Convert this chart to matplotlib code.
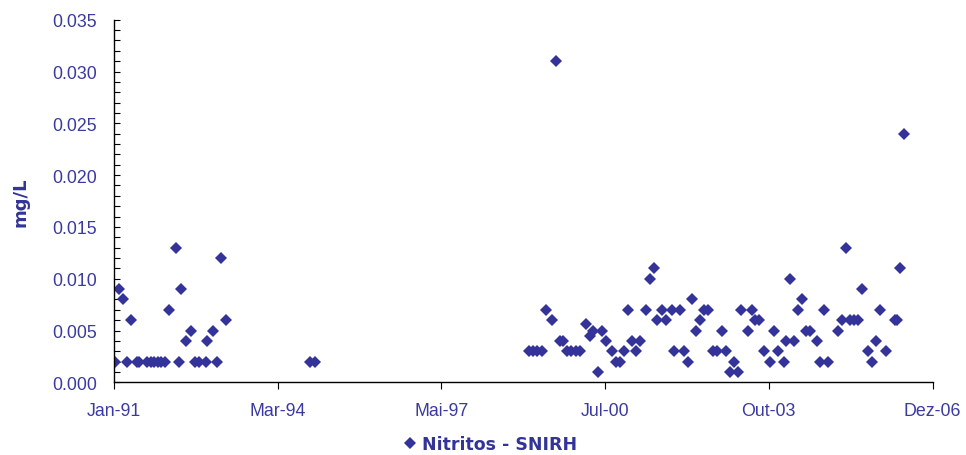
import matplotlib
matplotlib.use("Agg")
import matplotlib.pyplot as plt
from matplotlib.ticker import MultipleLocator, FormatStrFormatter
import pandas as pd

# ---------------- data ----------------
dates_early = [
    "1991-01-08", "1991-02-07", "1991-03-08", "1991-04-05", "1991-05-02",
    "1991-06-11", "1991-06-30", "1991-08-23", "1991-09-18", "1991-10-14",
    "1991-11-08", "1991-12-04", "1991-12-30", "1992-01-29", "1992-03-15",
    "1992-04-09", "1992-04-24", "1992-05-25", "1992-07-05", "1992-08-03",
    "1992-08-31", "1992-10-16", "1992-10-23", "1992-12-09", "1993-01-03",
    "1993-02-04", "1993-03-06", "1994-10-26", "1994-12-01",
]
values_early = [
    0.002, 0.009, 0.008, 0.002, 0.006,
    0.002, 0.002, 0.002, 0.002, 0.002,
    0.002, 0.002, 0.002, 0.007, 0.013,
    0.002, 0.009, 0.004, 0.005, 0.002,
    0.002, 0.002, 0.004, 0.005, 0.002,
    0.012, 0.006, 0.002, 0.002,
]

dates_late = [
    "1999-02-04", "1999-03-05", "1999-04-02", "1999-05-04", "1999-06-02",
    "1999-07-15", "1999-08-14", "1999-09-10", "1999-10-04", "1999-10-29",
    "1999-11-30", "2000-01-01", "2000-02-02", "2000-03-13", "2000-04-10",
    "2000-05-05", "2000-06-06", "2000-07-07", "2000-08-02", "2000-09-14",
    "2000-10-16", "2000-11-12", "2000-12-08", "2001-01-05", "2001-02-05",
    "2001-03-03", "2001-04-01", "2001-05-14", "2001-06-11", "2001-07-10",
    "2001-08-03", "2001-09-04", "2001-10-03", "2001-11-15", "2001-11-29",
    "2002-01-14", "2002-02-08", "2002-03-08", "2002-04-08", "2002-05-04",
    "2002-06-02", "2002-06-30", "2002-07-31", "2002-09-02", "2002-10-04",
    "2002-11-05", "2002-12-04", "2003-01-01", "2003-01-30", "2003-02-27",
    "2003-03-21", "2003-05-09", "2003-06-05", "2003-07-02", "2003-07-27",
    "2003-09-04", "2003-10-13", "2003-11-10", "2003-12-11", "2004-01-21",
    "2004-02-04", "2004-03-03", "2004-04-03", "2004-04-28", "2004-05-29",
    "2004-06-26", "2004-07-24", "2004-09-09", "2004-10-03", "2004-11-02",
    "2004-12-01", "2005-02-10", "2005-03-06", "2005-04-06", "2005-05-04",
    "2005-06-04", "2005-07-02", "2005-07-31", "2005-09-12", "2005-10-10",
    "2005-11-05", "2005-12-04", "2006-01-15", "2006-03-20", "2006-04-01",
    "2006-04-25", "2006-05-26",
]
values_late = [
    0.003, 0.003, 0.003, 0.003, 0.007,
    0.006, 0.031, 0.004, 0.004, 0.003,
    0.003, 0.003, 0.003, 0.0056, 0.0045,
    0.005, 0.001, 0.005, 0.004, 0.003,
    0.002, 0.002, 0.003, 0.007, 0.004,
    0.003, 0.004, 0.007, 0.010, 0.011,
    0.006, 0.007, 0.006, 0.007, 0.003,
    0.007, 0.003, 0.002, 0.008, 0.005,
    0.006, 0.007, 0.007, 0.003, 0.003,
    0.005, 0.003, 0.001, 0.002, 0.001,
    0.007, 0.005, 0.007, 0.006, 0.006,
    0.003, 0.002, 0.005, 0.003, 0.002,
    0.004, 0.010, 0.004, 0.007, 0.008,
    0.005, 0.005, 0.004, 0.002, 0.007,
    0.002, 0.005, 0.006, 0.013, 0.006,
    0.006, 0.006, 0.009, 0.003, 0.002,
    0.004, 0.007, 0.003, 0.006, 0.006,
    0.011, 0.024,
]

tick_dates = ["1991-01-01", "1994-03-11", "1997-05-19",
              "2000-07-27", "2003-10-05", "2006-12-13"]
tick_labels = ["Jan-91", "Mar-94", "Mai-97", "Jul-00", "Out-03", "Dez-06"]
y_label = "mg/L"
series_label = "Nitritos - SNIRH"

# ---------------- plot ----------------
BLUE = "#333399"
LABEL_BLUE = "#3a3aa0"
plt.rcParams["font.family"] = ["Liberation Sans", "DejaVu Sans"]

fig = plt.figure(figsize=(9.66, 4.56), dpi=100)
ax = fig.add_axes([114 / 966, 1 - 383.3 / 456, 818.5 / 966, 362.6 / 456])

x = pd.to_datetime(dates_early + dates_late)
y = values_early + values_late
ax.plot(x, y, linestyle="none", marker="D", markersize=5.8,
        color=BLUE, markeredgewidth=0, label=series_label)

ticks = pd.to_datetime(tick_dates)
ax.set_xlim(ticks[0], ticks[-1])
ax.set_xticks(ticks)
ax.set_xticklabels(tick_labels)
ax.set_ylim(0, 0.035)
ax.yaxis.set_major_locator(MultipleLocator(0.005))
ax.yaxis.set_minor_locator(MultipleLocator(0.001))
ax.yaxis.set_major_formatter(FormatStrFormatter("%.3f"))

for s in ("top", "right"):
    ax.spines[s].set_visible(False)
for s in ("left", "bottom"):
    ax.spines[s].set_color("black")
    ax.spines[s].set_linewidth(1.0)

ax.tick_params(axis="y", which="both", direction="in", length=4, width=0.8,
               colors="black", labelcolor=LABEL_BLUE, labelsize=12.8, pad=12)
ax.tick_params(axis="x", which="major", direction="out", length=5, width=0.8,
               colors="black", labelcolor=LABEL_BLUE, labelsize=12.8, pad=9)

ax.set_ylabel(y_label, color=BLUE, fontsize=13, fontweight="bold",
              family="DejaVu Sans")
ax.yaxis.set_label_coords(-0.103, 0.5)

leg = fig.legend(loc="center", bbox_to_anchor=(0.508, 0.024), frameon=False,
                 handlelength=0.6, handletextpad=0.4, markerscale=1.0,
                 prop={"family": "DejaVu Sans", "weight": "bold", "size": 12.5})
for t in leg.get_texts():
    t.set_color(BLUE)

fig.savefig("out.png", dpi=100)
